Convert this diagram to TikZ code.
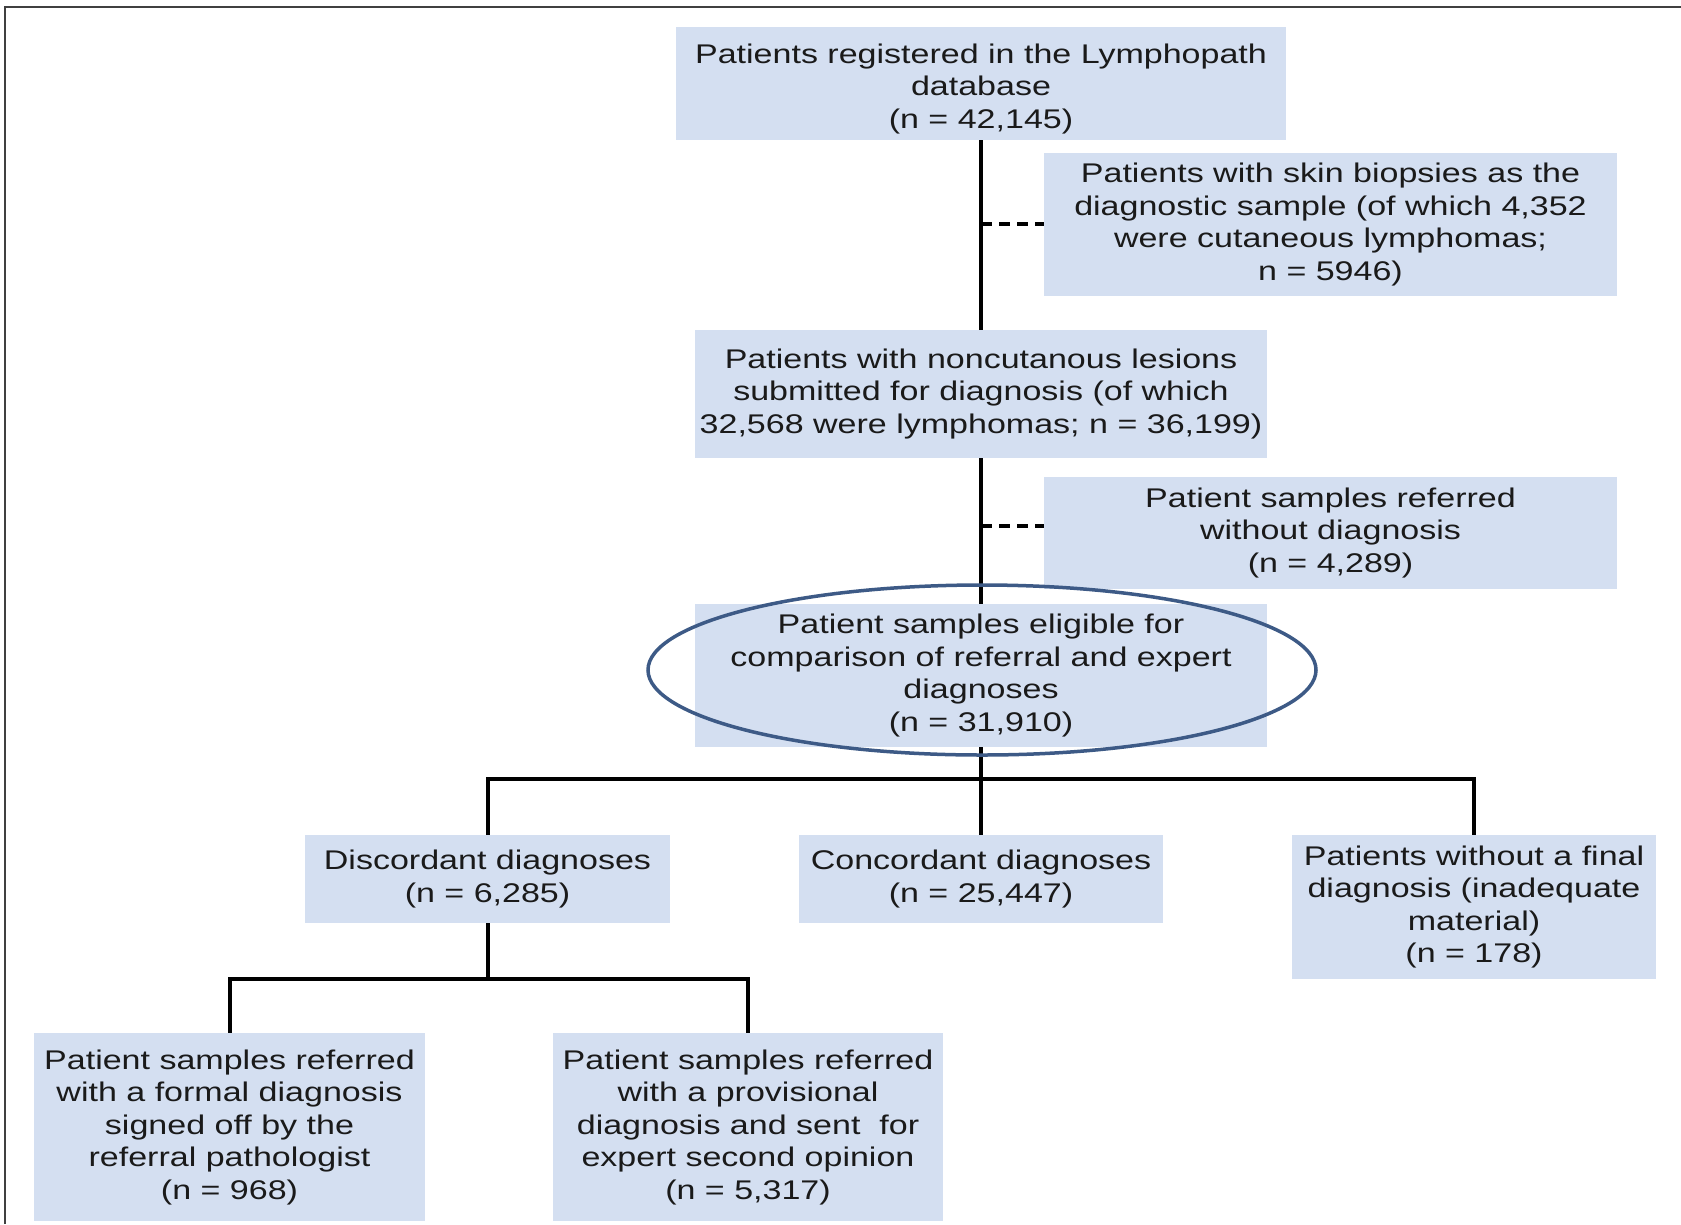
\documentclass[tikz,border=0pt]{standalone}
\usepackage{fontspec}
\newfontfamily\boxfont{Liberation Sans}[FakeStretch=1.26]
\usetikzlibrary{shapes.geometric}
\definecolor{boxfill}{HTML}{D4DFF1}
\definecolor{ringcol}{HTML}{3D5A86}
\definecolor{txt}{HTML}{1A1A1A}
\begin{document}
\begin{tikzpicture}[x=1pt,y=-1pt,
  fbox/.style={rectangle, fill=boxfill, inner sep=0pt, align=center, text=txt,
    font=\boxfont\fontsize{27}{32.5}\selectfont},
  conn/.style={line width=4pt, black},
  dconn/.style={line width=4.5pt, black, dash pattern=on 11pt off 7pt}]
\useasboundingbox (0,0) rectangle (1681,1224);
\fill[white] (0,0) rectangle (1681,1224);
% frame (left and top edges)
\draw[line width=2.5pt, black!75] (5,1224) -- (5,7) -- (1681,7);

\node[fbox, minimum width=610, minimum height=113] (n1) at (981,83.5)
  {\rule{0pt}{30pt}Patients registered in the Lymphopath\\database\\(n = 42,145)};
\node[fbox, minimum width=573, minimum height=143] (n2) at (1330.5,224.5)
  {Patients with skin biopsies as the\\diagnostic sample (of which 4,352\\were cutaneous lymphomas;\\n = 5946)};
\node[fbox, minimum width=572, minimum height=128] (n3) at (981,394)
  {Patients with noncutanous lesions\\submitted for diagnosis (of which\\32,568 were lymphomas; n = 36,199)};
\node[fbox, minimum width=573, minimum height=112] (n4) at (1330.5,533)
  {Patient samples referred\\without diagnosis\\(n = 4,289)};
\node[fbox, minimum width=572, minimum height=143] (n5) at (981,675.5)
  {Patient samples eligible for\\comparison of referral and expert\\diagnoses\\(n = 31,910)};
\node[fbox, minimum width=365, minimum height=88] (n6) at (487.5,879)
  {Discordant diagnoses\\(n = 6,285)};
\node[fbox, minimum width=364, minimum height=88] (n7) at (981,879)
  {Concordant diagnoses\\(n = 25,447)};
\node[fbox, minimum width=364, minimum height=144] (n8) at (1474,907)
  {Patients without a final\\diagnosis (inadequate\\material)\\(n = 178)};
\node[fbox, minimum width=391, minimum height=188] (n9) at (229.5,1127)
  {Patient samples referred\\with a formal diagnosis\\signed off by the\\referral pathologist\\(n = 968)};
\node[fbox, minimum width=390, minimum height=188] (n10) at (748,1127)
  {Patient samples referred\\with a provisional\\diagnosis and sent\ \ for\\expert second opinion\\(n = 5,317)};

\coordinate (d1) at (981,224);
\coordinate (d2) at (981,526);
\coordinate (b1) at (981,779);
\coordinate (b2) at (487.5,979);

\draw[conn] (n1.south) -- (n3.north);
\draw[conn] (n3.south) -- (n5.north);
\draw[conn] (n5.south) -- (n7.north);
\draw[dconn] (d1) -- (d1 -| n2.west);
\draw[dconn] (d2) -- (d2 -| n4.west);
\draw[conn] (n6.north) |- (b1) -| (n8.north);
\draw[conn] (n6.south) -- (b2);
\draw[conn] (n9.north) |- (b2) -| (n10.north);

\node[ellipse, draw=ringcol, line width=3.5pt, minimum width=668, minimum height=170, inner sep=0pt] (ring) at (982,670) {};
\end{tikzpicture}
\end{document}
